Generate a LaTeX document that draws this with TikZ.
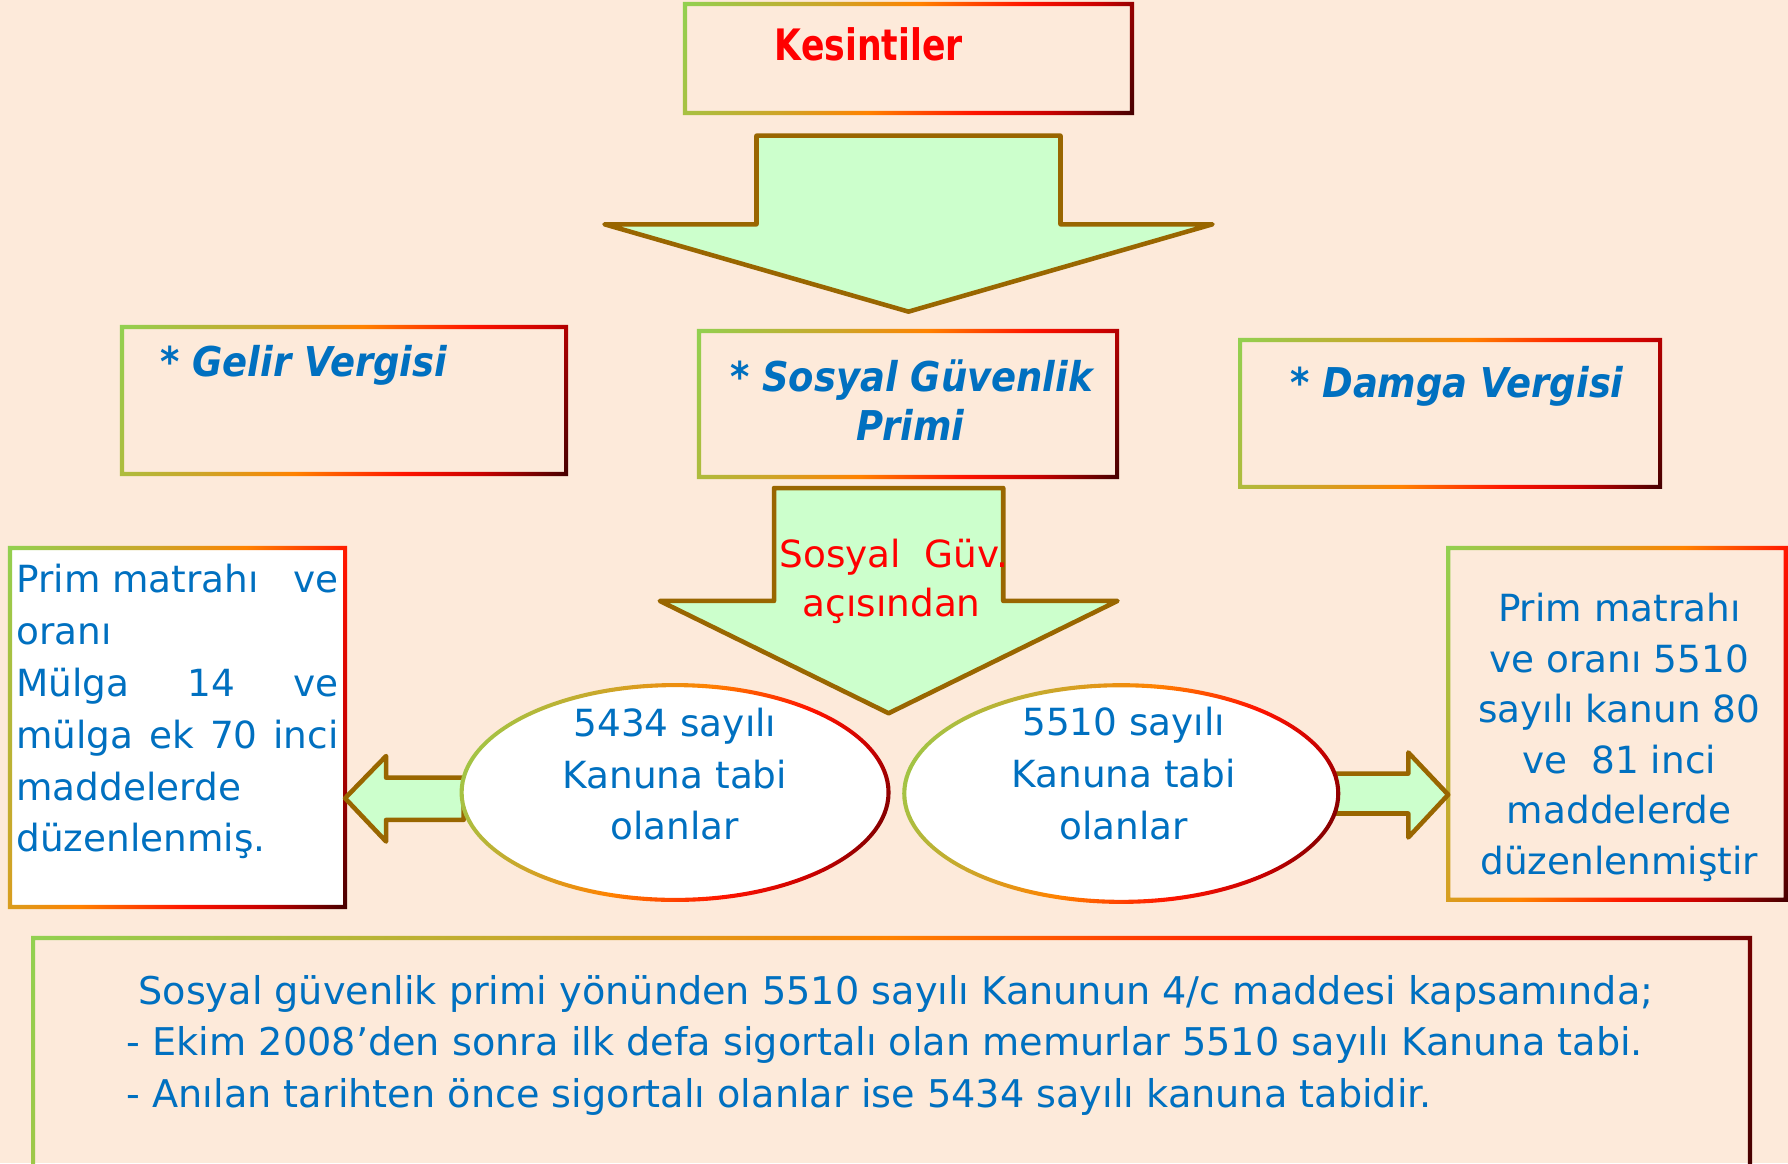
\documentclass[tikz,border=0pt]{standalone}
\usepackage{fontspec}
\setmainfont{DejaVu Sans}
\newfontfamily\ttlfont[FakeStretch=0.9]{DejaVu Sans Bold Oblique}
\newfontfamily\kesfont[FakeStretch=0.8]{DejaVu Sans Bold}
\usetikzlibrary{calc,fit,shapes.geometric}
\definecolor{bgpeach}{RGB}{253,234,218}
\definecolor{txtblue}{RGB}{0,112,192}
\definecolor{arrfill}{RGB}{204,255,204}
\definecolor{arrline}{RGB}{153,102,0}
\definecolor{gA}{RGB}{146,208,80}
\definecolor{gB}{RGB}{205,165,40}
\definecolor{gC}{RGB}{255,130,0}
\definecolor{gD}{RGB}{255,20,0}
\definecolor{gE}{RGB}{200,0,0}
\definecolor{gF}{RGB}{70,0,0}
\pgfdeclarehorizontalshading{bordgrad}{100bp}{color(0bp)=(gA); color(17bp)=(gA); color(36bp)=(gB); color(48bp)=(gC); color(62bp)=(gD); color(72bp)=(gE); color(83bp)=(gF); color(100bp)=(gF)}
\newcommand{\gring}[1]{\shade[gradring] ($(#1.north west)+(-1.8,-1.8)$) rectangle ($(#1.south east)+(1.8,1.8)$) ($(#1.north west)+(1.8,1.8)$) rectangle ($(#1.south east)+(-1.8,-1.8)$);}
\tikzset{
  plainbox/.style={rectangle, draw=none, inner sep=0pt, outer sep=0pt},
  gradring/.style={shading=bordgrad, shading angle=-25, even odd rule},
  blockarrow/.style={fill=arrfill, draw=arrline, line width=2pt, line join=round},
  bodytxt/.style={inner sep=0pt, text=txtblue, font=\fontsize{16.4pt}{22.7pt}\selectfont},
  bottxt/.style={inner sep=0pt, anchor=base west, text=txtblue, font=\fontsize{16.75pt}{22.7pt}\selectfont},
  ttltxt/.style={inner sep=0pt, text=txtblue, font=\ttlfont\fontsize{18pt}{21.2pt}\selectfont},
  redtxt/.style={inner sep=0pt, anchor=base, text=red, font=\fontsize{16.4pt}{22.7pt}\selectfont}
}
\begin{document}
\begin{tikzpicture}[x=0.5pt,y=-0.5pt]
\useasboundingbox (0,0) rectangle (1568,1020);
\clip (0,0) rectangle (1568,1020);
\fill[bgpeach] (0,0) rectangle (1568,1020);

% boxes
\node[plainbox, fit={(600.7,3.5)(992.7,99.1)}] (kes) {};
\node[plainbox, fit={(107,286.8)(496.4,415.7)}] (gv) {};
\node[plainbox, fit={(613,290.3)(979.6,418.3)}] (sg) {};
\node[plainbox, fit={(1087.5,298.2)(1455.8,427)}] (dv) {};
\node[plainbox, fill=white, fit={(8.8,480.6)(302.6,795.4)}] (lb) {};
\node[plainbox, fit={(1270,480.6)(1566,789)}] (rb) {};
\node[plainbox, fit={(29,822.6)(1534.7,1030)}] (bot) {};
\gring{kes}
\gring{gv}
\gring{sg}
\gring{dv}
\gring{lb}
\gring{rb}
\gring{bot}

% big arrow 1
\coordinate (a1) at ($(kes.south)+(0,19.9)$);
\draw[blockarrow] ($(a1)+(-133.3,0)$) -- ($(a1)+(133.3,0)$) -- ($(a1)+(133.3,77.7)$)
  -- ($(a1)+(266.6,77.7)$) -- ($(a1)+(0,154.3)$) -- ($(a1)+(-266.6,77.7)$)
  -- ($(a1)+(-133.3,77.7)$) -- cycle;

% big arrow 2
\coordinate (a2) at ($(sg.south)+(-17,9.7)$);
\draw[blockarrow] ($(a2)+(-100.5,0)$) -- ($(a2)+(100.5,0)$) -- ($(a2)+(100.5,99)$)
  -- ($(a2)+(200.7,99)$) -- ($(a2)+(0,197.5)$) -- ($(a2)+(-200.7,99)$)
  -- ($(a2)+(-100.5,99)$) -- cycle;

% ellipses (positions)
\node[ellipse, draw=none, inner sep=0pt, minimum width=187pt, minimum height=94pt] (e1) at (592,695) {};
\node[ellipse, draw=none, inner sep=0pt, minimum width=190.3pt, minimum height=95pt] (e2) at (983.3,695.9) {};

% side arrows
\coordinate (lt) at ($(lb.east|-e1.west)+(0,5)$);
\draw[blockarrow] (lt) -- ++(36,-37) -- ++(0,19) -- ($(lt)+(104,-18)$) -- ++(0,37)
  -- ($(lt)+(36,19)$) -- ++(0,19) -- cycle;
\coordinate (rt) at ($(rb.west|-e2.east)+(0,1)$);
\draw[blockarrow] (rt) -- ++(-35,-37) -- ++(0,18.5) -- ($(rt)+(-99,-18.5)$) -- ++(0,35)
  -- ($(rt)+(-35,16.5)$) -- ++(0,21) -- cycle;

% ellipse fills and rings
\fill[white] (e1.center) ellipse [x radius=187, y radius=94];
\shade[gradring] (e1.center) ellipse [x radius=189, y radius=96] (e1.center) ellipse [x radius=185.4, y radius=92.4];
\fill[white] (e2.center) ellipse [x radius=190.3, y radius=95];
\shade[gradring] (e2.center) ellipse [x radius=192.1, y radius=96.8] (e2.center) ellipse [x radius=188.5, y radius=93.2];

% texts
\node[inner sep=0pt, anchor=base, text=red, font=\kesfont\fontsize{19pt}{23pt}\selectfont] (kest) at (762,53.5) {Kesintiler};
\node[ttltxt, anchor=base west] (gvt) at (140,330) {* Gelir Vergisi};
\node[ttltxt, anchor=base] (sgt1) at (799.3,343.6) {* Sosyal Güvenlik};
\node[ttltxt, anchor=base] (sgt2) at (798.5,386) {Primi};
\node[ttltxt, anchor=base west] (dvt) at (1131,349) {* Damga Vergisi};

\node[redtxt] (a2t1) at (784,498) {Sosyal\ \ Güv.};
\node[redtxt] (a2t2) at (782,541) {açısından};

\node[bodytxt, anchor=base west] (lb1) at (14,520) {\makebox[141.3pt][l]{Prim matrahı\hfill ve}};
\node[bodytxt, anchor=base west] (lb2) at (14,565.4) {oranı};
\node[bodytxt, anchor=base west] (lb3) at (14,610.8) {\makebox[141.3pt][l]{Mülga\hfill 14\hfill ve}};
\node[bodytxt, anchor=base west] (lb4) at (14,656.2) {\makebox[141.3pt][s]{mülga ek 70 inci}};
\node[bodytxt, anchor=base west] (lb5) at (14,701.6) {maddelerde};
\node[bodytxt, anchor=base west] (lb6) at (14,747) {düzenlenmiş.};

\node[bodytxt, anchor=base] (e1t1) at (591.8,646) {5434 sayılı};
\node[bodytxt, anchor=base] (e1t2) at (591.8,691.3) {Kanuna tabi};
\node[bodytxt, anchor=base] (e1t3) at (591.8,736.6) {olanlar};
\node[bodytxt, anchor=base] (e2t1) at (985.5,644.6) {5510 sayılı};
\node[bodytxt, anchor=base] (e2t2) at (985.5,690.3) {Kanuna tabi};
\node[bodytxt, anchor=base] (e2t3) at (985.5,736) {olanlar};

\node[bodytxt, anchor=base] (rb1) at (1420,545) {Prim matrahı};
\node[bodytxt, anchor=base] (rb2) at (1420,589.4) {ve oranı 5510};
\node[bodytxt, anchor=base] (rb3) at (1420,633.8) {sayılı kanun 80};
\node[bodytxt, anchor=base] (rb4) at (1420,678.2) {ve\ \ 81 inci};
\node[bodytxt, anchor=base] (rb5) at (1420,722.6) {maddelerde};
\node[bodytxt, anchor=base] (rb6) at (1420,767) {düzenlenmiştir};

\node[bottxt] (bt1) at (121,881) {Sosyal güvenlik primi yönünden 5510 sayılı Kanunun 4/c maddesi kapsamında;};
\node[bottxt] (bt2) at (110.7,926) {- Ekim 2008’den sonra ilk defa sigortalı olan memurlar 5510 sayılı Kanuna tabi.};
\node[bottxt] (bt3) at (110.7,971) {- Anılan tarihten önce sigortalı olanlar ise 5434 sayılı kanuna tabidir.};
\end{tikzpicture}
\end{document}
